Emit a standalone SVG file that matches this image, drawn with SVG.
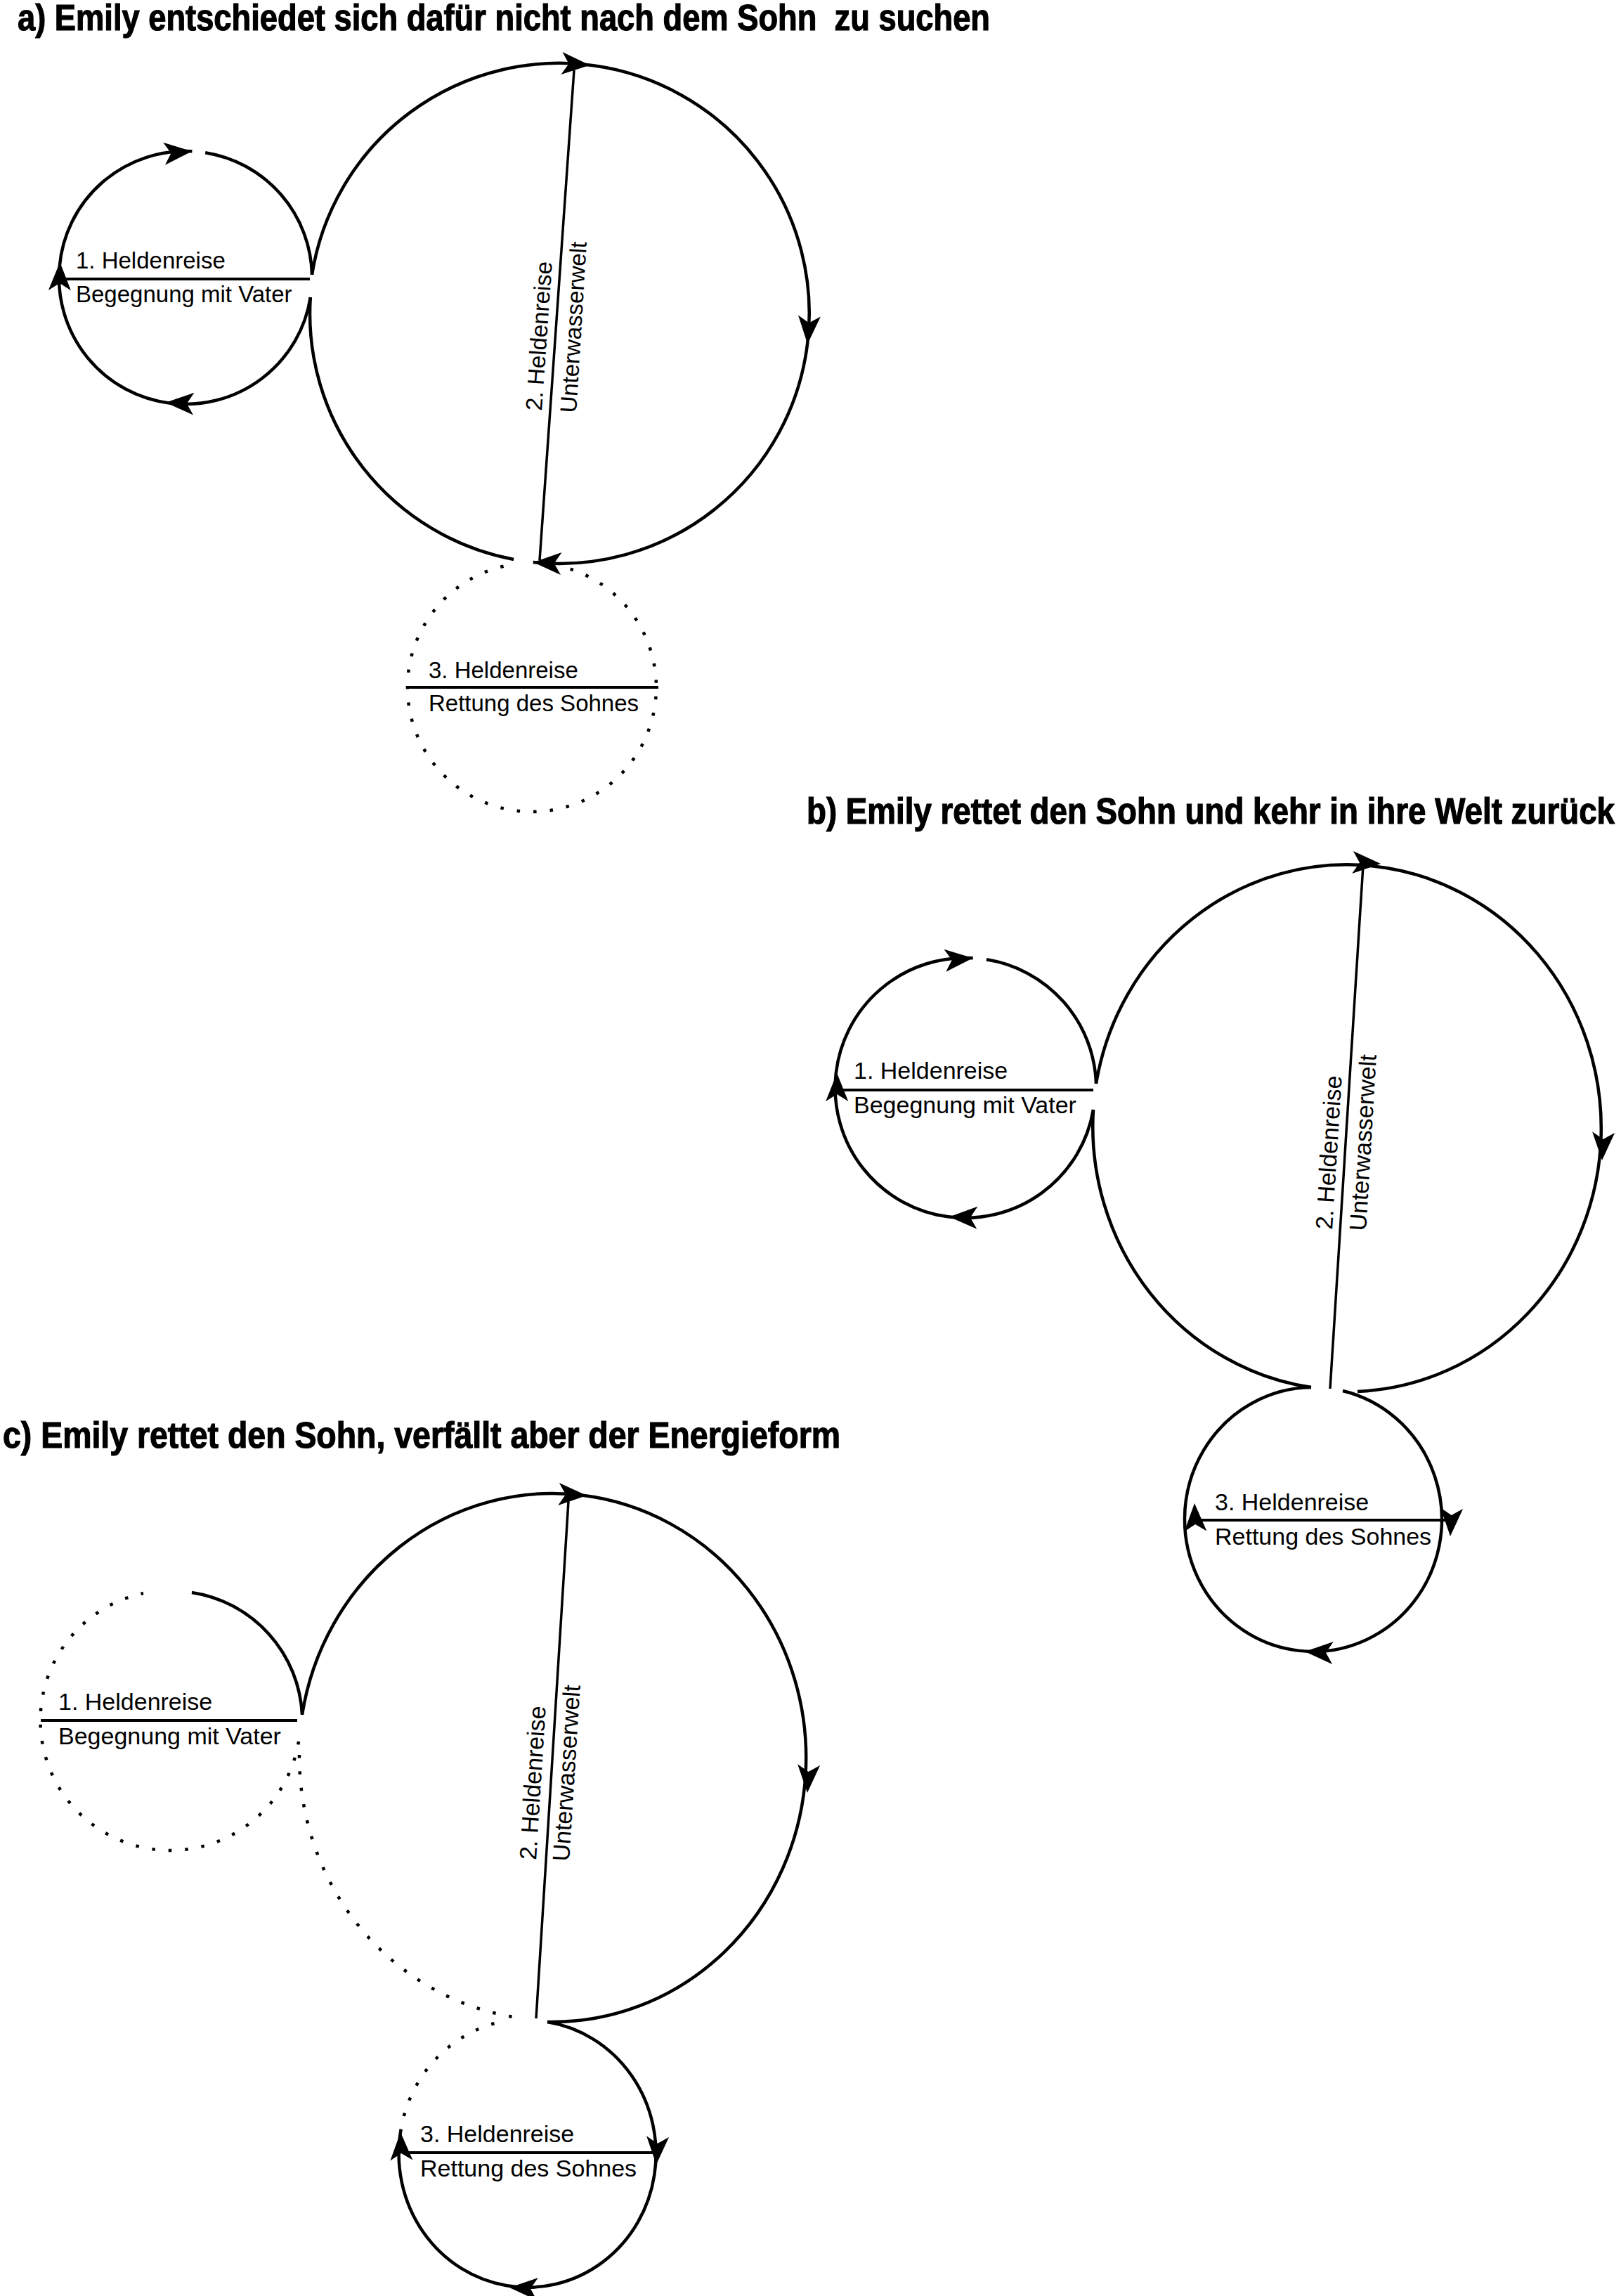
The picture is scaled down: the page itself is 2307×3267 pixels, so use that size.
<svg xmlns="http://www.w3.org/2000/svg" width="2307" height="3267" viewBox="0 0 2307 3267">
<style>
.c{fill:none;stroke:#000;stroke-width:4.5}
.d{fill:none;stroke:#000;stroke-width:4.5;stroke-dasharray:4.5 19}
.l{fill:none;stroke:#000;stroke-width:4}
.g{fill:none;stroke:#000;stroke-width:3.5}
.t{font-family:"Liberation Sans",Arial,sans-serif;font-size:33px;fill:#000}
.tb{font-family:"Liberation Sans",Arial,sans-serif;font-size:34px;fill:#000}
.h{font-family:"Liberation Sans Narrow","Liberation Sans",Arial,sans-serif;font-weight:bold;font-size:51px;fill:#000;stroke:#000;stroke-width:1.2}
</style>
<defs>
<path id="ah" d="M0,0 L-40,-16 L-30,0 L-40,16 Z" fill="#000"/>
</defs>
<rect width="2307" height="3267" fill="#fff"/>

<!-- ===== Part a ===== -->
<g id="title-a"><text class="h" x="25" y="43" textLength="1384" lengthAdjust="spacingAndGlyphs" xml:space="preserve">a) Emily entschiedet sich dafür nicht nach dem Sohn  zu suchen</text></g>

<g id="a-journey1">
<path class="c" d="M292.2,217.2 A180,180 0 0 1 444,391"/>
<path class="c" d="M441.8,423 A180,180 0 1 1 273.4,215.3"/>
<use href="#ah" transform="translate(273.4,215.3) rotate(-5)"/>
<use href="#ah" transform="translate(235.8,572.8) rotate(182.6)"/>
<use href="#ah" transform="translate(85.3,373.1) rotate(270.6)"/>
<path class="l" d="M89,397 H441"/>
<text class="t" x="108" y="382">1. Heldenreise</text>
<text class="t" x="108" y="430">Begegnung mit Vater</text>
</g>

<g id="a-journey2">
<path class="c" d="M444,391 A356,356 0 1 1 758.8,800"/>
<path class="c" d="M731.1,796 A356,356 0 0 1 441.8,423"/>
<use href="#ah" transform="translate(839.4,92.7) rotate(3.8)"/>
<use href="#ah" transform="translate(1149.3,489.4) rotate(93.8)"/>
<use href="#ah" transform="translate(758.8,800) rotate(182.8)"/>
<path class="g" d="M817,100 L768,797"/>
<text class="t" transform="translate(771,585) rotate(-86)">2. Heldenreise</text>
<text class="t" transform="translate(820,588) rotate(-86.5)">Unterwasserwelt</text>
</g>

<g id="a-journey3">
<path class="d" d="M811.7,809.7 A177,177 0 1 1 729.3,803.2"/>
<path class="l" d="M580,978 H937"/>
<text class="t" x="610" y="965">3. Heldenreise</text>
<text class="t" x="610" y="1012">Rettung des Sohnes</text>
</g>

<!-- ===== Part b ===== -->
<g id="title-b"><text class="h" x="2298" y="1172" text-anchor="end" textLength="1150" lengthAdjust="spacingAndGlyphs">b) Emily rettet den Sohn und kehr in ihre Welt zurück</text></g>

<g id="b-journey1">
<path class="c" d="M1403.9,1365.3 A185,185 0 0 1 1560,1542"/>
<path class="c" d="M1556,1579 A185,185 0 1 1 1384.7,1363.3"/>
<use href="#ah" transform="translate(1384.7,1363.3) rotate(-5)"/>
<use href="#ah" transform="translate(1350.9,1731.4) rotate(182)"/>
<use href="#ah" transform="translate(1191.2,1527.1) rotate(270)"/>
<path class="l" d="M1196,1551 H1556"/>
<text class="tb" x="1215" y="1535">1. Heldenreise</text>
<text class="tb" x="1215" y="1584">Begegnung mit Vater</text>
</g>

<g id="b-journey2">
<path class="c" d="M1560,1542 A362,375 0 1 1 1932,1980"/>
<path class="c" d="M1866,1974 A362,375 0 0 1 1556,1579"/>
<use href="#ah" transform="translate(1965,1229) rotate(3)"/>
<use href="#ah" transform="translate(2280,1651) rotate(93)"/>
<path class="g" d="M1940,1231 L1893,1976"/>
<text class="tb" transform="translate(1896,1750) rotate(-86.4)">2. Heldenreise</text>
<text class="tb" transform="translate(1944,1752) rotate(-86.6)">Unterwasserwelt</text>
</g>

<g id="b-journey3">
<path class="c" d="M1911,1979 A183,188 0 1 1 1866,1974"/>
<use href="#ah" transform="translate(2064,2186) rotate(93)"/>
<use href="#ah" transform="translate(1857,2350) rotate(183)"/>
<use href="#ah" transform="translate(1700,2139) rotate(268)"/>
<path class="l" d="M1707,2163 H2061"/>
<text class="tb" x="1729" y="2149">3. Heldenreise</text>
<text class="tb" x="1729" y="2198">Rettung des Sohnes</text>
</g>

<!-- ===== Part c ===== -->
<g id="title-c"><text class="h" x="4" y="2060" textLength="1192" lengthAdjust="spacingAndGlyphs">c) Emily rettet den Sohn, verfällt aber der Energieform</text></g>

<g id="c-journey1">
<path class="c" d="M273,2266 A185,185 0 0 1 430,2440"/>
<path class="d" d="M425,2478 A185,185 0 1 1 204,2267"/>
<path class="l" d="M58,2448 H423"/>
<text class="tb" x="83" y="2433">1. Heldenreise</text>
<text class="tb" x="83" y="2482">Begegnung mit Vater</text>
</g>

<g id="c-journey2">
<path class="c" d="M430,2440 A361,376 0 1 1 779,2877"/>
<path class="d" d="M426,2497 A361,376 0 0 0 745,2872"/>
<use href="#ah" transform="translate(835,2128) rotate(3)"/>
<use href="#ah" transform="translate(1149,2551) rotate(93)"/>
<path class="g" d="M809,2136 L763,2872"/>
<text class="tb" transform="translate(763,2647) rotate(-86.4)">2. Heldenreise</text>
<text class="tb" transform="translate(810,2649) rotate(-86.4)">Unterwasserwelt</text>
</g>

<g id="c-journey3">
<path class="c" d="M779,2877 A183,190 0 1 1 570,3034"/>
<path class="d" d="M570,3034 A183,190 0 0 1 717,2876"/>
<use href="#ah" transform="translate(934,3080) rotate(93)"/>
<use href="#ah" transform="translate(725,3255) rotate(183)"/>
<use href="#ah" transform="translate(570,3034) rotate(268)"/>
<path class="l" d="M574,3063 H936"/>
<text class="tb" x="598" y="3048">3. Heldenreise</text>
<text class="tb" x="598" y="3097">Rettung des Sohnes</text>
</g>

<g id="connectors"></g>
</svg>
